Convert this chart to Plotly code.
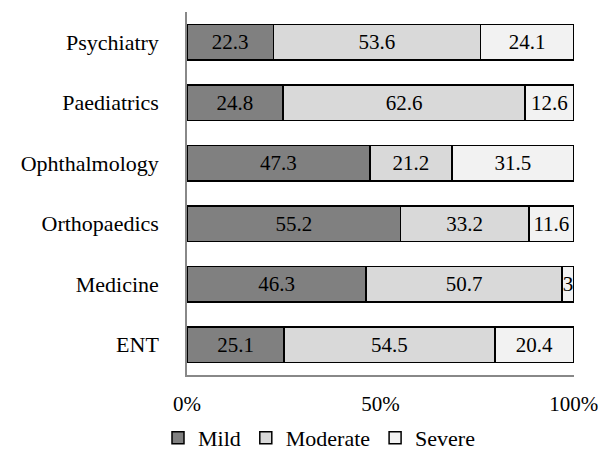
import plotly.graph_objects as go

categories = ["ENT", "Medicine", "Orthopaedics", "Ophthalmology", "Paediatrics", "Psychiatry"]
mild = [25.1, 46.3, 55.2, 47.3, 24.8, 22.3]
moderate = [54.5, 50.7, 33.2, 21.2, 62.6, 53.6]
severe = [20.4, 3, 11.6, 31.5, 12.6, 24.1]
series_names = ["Mild", "Moderate", "Severe"]
colors = ["#808080", "#d9d9d9", "#f2f2f2"]
x_ticks = [0, 50, 100]
x_ticklabels = ["0%", "50%", "100%"]

FONT = "Liberation Serif"
FS = 21
fig = go.Figure()
for name, vals, col in zip(series_names, [mild, moderate, severe], colors):
    fig.add_trace(go.Bar(
        y=categories, x=vals, name=name, orientation="h",
        marker=dict(color=col, line=dict(color="black", width=1.5)),
        text=[str(v) for v in vals], textposition="inside",
        insidetextanchor="middle", constraintext="none",
        textfont=dict(family=FONT, size=FS, color="black"),
    ))

fig.update_layout(
    barmode="stack", bargap=0.41,
    width=598, height=450,
    margin=dict(l=187, r=24, t=12, b=75),
    paper_bgcolor="white", plot_bgcolor="white",
    font=dict(family=FONT, size=FS, color="black"),
    showlegend=True,
    legend=dict(orientation="h", x=158/598, xanchor="left", xref="container",
                y=12/450, yanchor="middle", yref="container",
                bgcolor="rgba(0,0,0,0)",
                font=dict(size=22), traceorder="normal", itemwidth=30),
    xaxis=dict(range=[0, 100.05], tickvals=x_ticks, ticktext=x_ticklabels,
               showgrid=False, zeroline=False, showline=True, linecolor="#888888", linewidth=1.5,
               ticks="", ticklabelstandoff=9, ticklabeloverflow="allow",
               fixedrange=True, automargin=False),
    yaxis=dict(showgrid=False, zeroline=False, showline=True, linecolor="#888888", linewidth=1.5,
               ticks="", ticklabelstandoff=22, categoryorder="array", categoryarray=categories,
               automargin=False, tickfont=dict(size=22)),
)
fig.write_html("out.html", config={"displayModeBar": False},
               post_script="document.body.style.margin='0';")
